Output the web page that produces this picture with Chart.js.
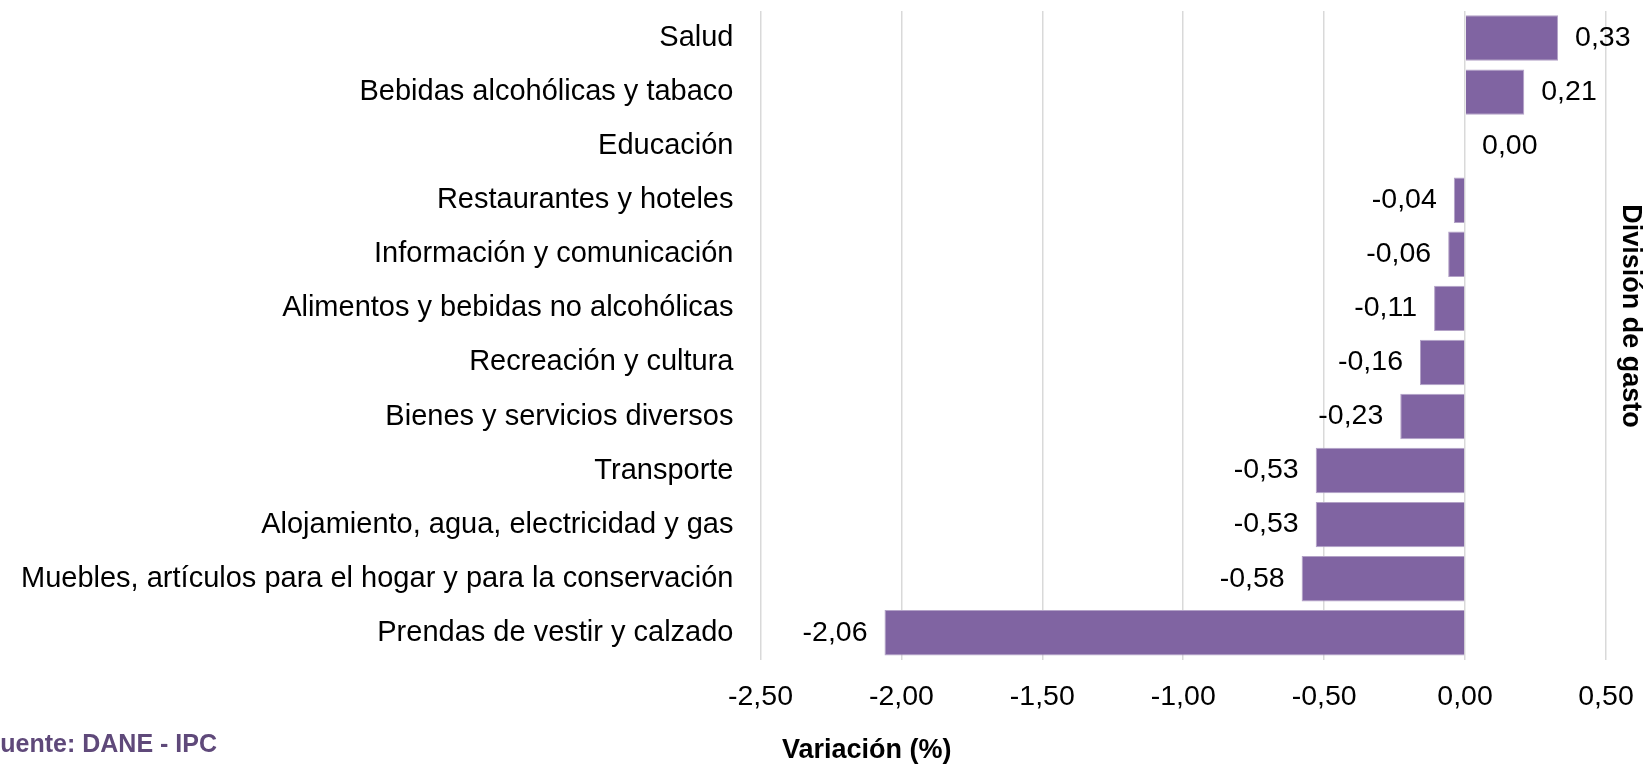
<!DOCTYPE html>
<html>
<head>
<meta charset="utf-8">
<script src="https://cdn.jsdelivr.net/npm/chart.js@4.4.0/dist/chart.umd.min.js"></script>
<style>
  html, body { margin: 0; padding: 0; background: #fff; }
  canvas { display: block; }
</style>
</head>
<body>
<canvas id="chart" width="1648" height="767"></canvas>
<script>
const categorias = [
  'Salud',
  'Bebidas alcohólicas y tabaco',
  'Educación',
  'Restaurantes y hoteles',
  'Información y comunicación',
  'Alimentos y bebidas no alcohólicas',
  'Recreación y cultura',
  'Bienes y servicios diversos',
  'Transporte',
  'Alojamiento, agua, electricidad y gas',
  'Muebles, artículos para el hogar y para la conservación',
  'Prendas de vestir y calzado'
];
const variacion = [0.33, 0.21, 0.00, -0.04, -0.06, -0.11, -0.16, -0.23, -0.53, -0.53, -0.58, -2.06];

const ejeMin = -2.5;
const ejeMax = 0.5;
const ejePaso = 0.5;

const tituloX = 'Variación (%)';
const tituloY = 'División de gasto';
const fuente = 'Fuente: DANE - IPC';

const FONT = "'Liberation Sans', Arial, sans-serif";

function coma(v) {
  return v.toFixed(2).replace('.', ',');
}

// etiquetas de valor al final de cada barra
const etiquetas = {
  id: 'etiquetas',
  afterDatasetsDraw(chart) {
    const ctx = chart.ctx;
    const meta = chart.getDatasetMeta(0);
    ctx.save();
    ctx.font = '28.5px ' + FONT;
    ctx.fillStyle = '#000';
    ctx.textBaseline = 'middle';
    meta.data.forEach((bar, i) => {
      const v = variacion[i];
      if (v >= 0) {
        ctx.textAlign = 'left';
        ctx.fillText(coma(v), bar.x + 17, bar.y);
      } else {
        ctx.textAlign = 'right';
        ctx.fillText(coma(v), bar.x - 17, bar.y);
      }
    });
    ctx.restore();
  }
};

// titulos y fuente
const textos = {
  id: 'textos',
  afterDraw(chart) {
    const ctx = chart.ctx;
    ctx.save();
    ctx.fillStyle = '#000';
    ctx.font = 'bold 27px ' + FONT;
    ctx.textAlign = 'left';
    ctx.textBaseline = 'alphabetic';
    ctx.fillText(tituloX, 782, 758);

    ctx.fillStyle = '#5F497A';
    ctx.font = 'bold 25px ' + FONT;
    ctx.fillText(fuente, -15, 752);

    ctx.fillStyle = '#000';
    ctx.font = 'bold 27px ' + FONT;
    ctx.translate(1630, 316);
    ctx.rotate(Math.PI / 2);
    ctx.textAlign = 'center';
    ctx.textBaseline = 'middle';
    ctx.fillText(tituloY, 0, 0);
    ctx.restore();
  }
};

const ctx = document.getElementById('chart').getContext('2d');
const chart = new Chart(ctx, {
  type: 'bar',
  data: {
    labels: categorias,
    datasets: [{
      data: variacion,
      backgroundColor: '#8064A2',
      borderColor: '#B3A2C7',
      borderWidth: 1,
      barPercentage: 0.84,
      categoryPercentage: 1
    }]
  },
  options: {
    indexAxis: 'y',
    responsive: false,
    animation: false,
    layout: {
      padding: { left: 21, right: 42, top: 11, bottom: 53 }
    },
    plugins: {
      legend: { display: false },
      tooltip: { enabled: false }
    },
    scales: {
      x: {
        min: ejeMin,
        max: ejeMax,
        border: { display: false },
        grid: { color: '#d9d9d9', lineWidth: 1.5, drawTicks: true, tickLength: 20, tickColor: 'rgba(0,0,0,0)' },
        ticks: {
          stepSize: ejePaso,
          padding: 0,
          color: '#000',
          font: { family: FONT, size: 28.5 },
          callback: v => coma(v)
        }
      },
      y: {
        border: { display: false },
        grid: { color: 'rgba(0,0,0,0)', drawOnChartArea: false, drawTicks: true, tickLength: 27 },
        ticks: {
          padding: 0,
          color: '#000',
          font: { family: FONT, size: 29, lineHeight: 0.6 }
        }
      }
    }
  },
  plugins: [etiquetas, textos]
});
</script>
</body>
</html>
